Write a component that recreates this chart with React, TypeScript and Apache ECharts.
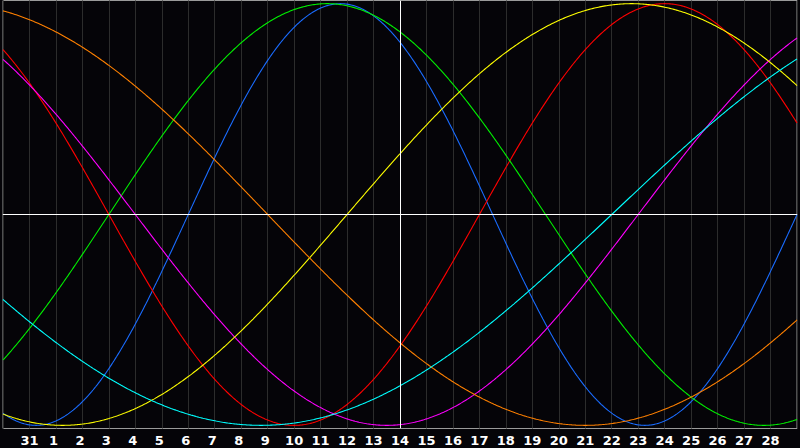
import React, { useEffect, useRef } from "react";
import * as echarts from "echarts";

// Day labels at each grid line (index 0..30); the ends are unlabeled
const dayLabels = [
  "", "31", "1", "2", "3", "4", "5", "6", "7", "8", "9", "10", "11", "12", "13", "14",
  "15", "16", "17", "18", "19", "20", "21", "22", "23", "24", "25", "26", "27", "28", "",
];

// Biorhythm cycles: period in days, and the day index where the cycle crosses zero going up
const cycleNames = ["Physical", "Emotional", "Intellectual", "Intuitive", "Aesthetic", "Awareness", "Spiritual"];
const cyclePeriods = [23, 28, 33, 38, 43, 48, 53];
const cycleZeroDays = [7, 18, 4, 24, 13, 34, 23];
const cycleColors = ["#1a6cff", "#ff0000", "#00f000", "#ff00ff", "#ffff00", "#ff8000", "#00ffff"];

const todayIndex = 15;
const dayCount = 30;

function buildSeries() {
  const step = 0.05;
  return cycleNames.map((name, k) => {
    const data: number[][] = [];
    const n = Math.round(dayCount / step);
    for (let j = 0; j <= n; j++) {
      const t = j * step;
      data.push([t, Math.sin((2 * Math.PI * (t - cycleZeroDays[k])) / cyclePeriods[k])]);
    }
    const s: any = {
      name,
      type: "line",
      data,
      showSymbol: false,
      symbol: "none",
      silent: true,
      lineStyle: { color: cycleColors[k], width: 1.1 },
      z: 3,
    };
    return s;
  });
}

export default function App() {
  const ref = useRef<HTMLDivElement>(null);
  useEffect(() => {
    if (!ref.current) return;
    const chart = echarts.init(ref.current, null, { renderer: "svg" });
    const series = buildSeries();
    series.push({
      name: "center",
      type: "line",
      data: [],
      silent: true,
      z: 2,
      markLine: {
        silent: true,
        symbol: "none",
        label: { show: false },
        lineStyle: { color: "#ffffff", width: 1, type: "solid" },
        data: [{ xAxis: todayIndex }, { yAxis: 0 }],
      },
    });
    chart.setOption({
      animation: false,
      backgroundColor: "#050408",
      grid: {
        left: 0.5,
        right: 0.5,
        top: 0.5,
        height: 428,
        show: true,
        borderColor: "#9a9a9a",
        borderWidth: 1,
        backgroundColor: "transparent",
      },
      xAxis: {
        type: "value",
        min: 0,
        max: dayCount,
        interval: 1,
        axisLine: { show: true, lineStyle: { color: "#9a9a9a", width: 1 } },
        axisTick: { show: false },
        splitLine: { show: true, lineStyle: { color: "#2c2c2c", width: 1 } },
        axisLabel: {
          show: true,
          margin: 5,
          formatter: (v: number) => {
            const s = dayLabels[Math.round(v)] || "";
            if (!s) return "";
            return s.length === 1 ? "{s|" + s + "}" : "{d|" + s + "}";
          },
          rich: {
            s: { color: "#ffffff", fontWeight: "bold", fontSize: 13, fontFamily: "DejaVu Sans", padding: [0, 5, 0, 0] },
            d: { color: "#ffffff", fontWeight: "bold", fontSize: 13, fontFamily: "DejaVu Sans" },
          },
          color: "#ffffff",
          fontWeight: "bold",
          fontSize: 13,
          fontFamily: "DejaVu Sans",
        },
      },
      yAxis: {
        type: "value",
        min: -1.015,
        max: 1.015,
        axisLine: { show: false },
        axisTick: { show: false },
        axisLabel: { show: false },
        splitLine: { show: false },
      },
      series,
    });
    return () => chart.dispose();
  }, []);
  return (
    <div
      ref={ref}
      style={{ position: "absolute", left: 0, top: 0, width: 800, height: 448 }}
    />
  );
}
